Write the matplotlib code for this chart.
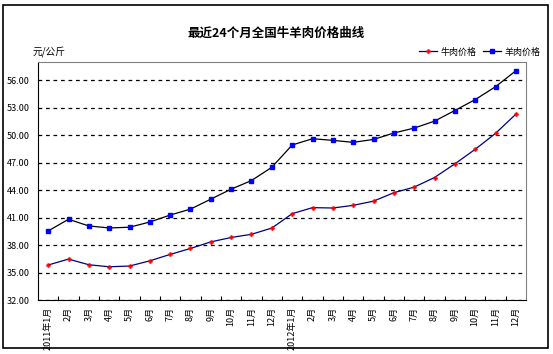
import matplotlib
matplotlib.use("Agg")
import matplotlib.pyplot as plt
from matplotlib.patches import Rectangle

plt.rcParams['font.family'] = ['Noto Sans CJK SC', 'DejaVu Sans']

categories = ["2011年1月", "2月", "3月", "4月", "5月", "6月", "7月", "8月", "9月", "10月", "11月", "12月",
              "2012年1月", "2月", "3月", "4月", "5月", "6月", "7月", "8月", "9月", "10月", "11月", "12月"]
beef = [35.82, 36.47, 35.85, 35.63, 35.71, 36.28, 36.98, 37.63, 38.35, 38.83, 39.18, 39.86,
        41.43, 42.09, 42.05, 42.34, 42.80, 43.72, 44.33, 45.38, 46.87, 48.46, 50.20, 52.30]
lamb = [39.54, 40.82, 40.09, 39.87, 39.95, 40.52, 41.28, 41.93, 43.02, 44.11, 45.05, 46.50,
        48.93, 49.62, 49.44, 49.22, 49.54, 50.24, 50.78, 51.54, 52.70, 53.89, 55.30, 57.04]
yticks = [32, 35, 38, 41, 44, 47, 50, 53, 56]

fig = plt.figure(figsize=(5.53, 3.54), dpi=100)
fig.patch.set_facecolor('white')
fig.add_artist(Rectangle((3/553, 6/354), 545/553, 343/354, transform=fig.transFigure,
                         fill=False, edgecolor='black', linewidth=1.2))

ax = fig.add_axes([38/553, 1 - 300/354, 488/553, 238/354])
x = list(range(len(categories)))
ax.plot(x, beef, color='#000080', linewidth=0.9, marker='P', markersize=3.0,
        markerfacecolor='red', markeredgecolor='red', markeredgewidth=0.3, label='牛肉价格')
ax.plot(x, lamb, color='black', linewidth=0.9, marker='s', markersize=3.3,
        markerfacecolor='#0000ff', markeredgecolor='#0000ff', label='羊肉价格')

ax.set_xlim(-0.5, len(categories) - 0.5)
ax.set_ylim(32, 58)
ax.set_yticks(yticks)
ax.set_yticklabels([f"{v:.2f}" for v in yticks], fontsize=6.5)
ax.yaxis.grid(True, linestyle=(0, (3, 3)), color='black', linewidth=0.9)
ax.tick_params(axis='y', length=0, pad=6)
ax.set_xticks([i - 0.5 for i in range(1, len(categories))], minor=False)
ax.set_xticklabels([])
ax.set_xticks(x, minor=True)
ax.set_xticklabels(categories, minor=True, rotation=90, fontsize=6.5, va='top')
ax.tick_params(axis='x', which='major', direction='in', length=3, color='black')
ax.tick_params(axis='x', which='minor', length=0, pad=5)
for s in ['top', 'right']:
    ax.spines[s].set_color('#808080')
for s in ['left', 'bottom']:
    ax.spines[s].set_color('black')

fig.text(0.5, 1 - 33/354, '最近24个月全国牛羊肉价格曲线', ha='center', va='center',
         fontsize=9, fontweight='bold')
fig.text(33/553, 1 - 52/354, '元/公斤', ha='left', va='center', fontsize=7, style='italic')
leg = ax.legend(loc='lower right', bbox_to_anchor=(1.04, 1.0), ncol=2, frameon=False,
                fontsize=6.5, handlelength=2.0, columnspacing=0.8, handletextpad=0.3,
                borderaxespad=0.2)

fig.savefig('out.png', dpi=100)
